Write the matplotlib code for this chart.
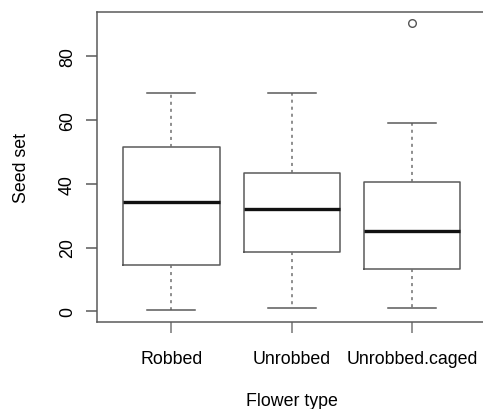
import matplotlib
matplotlib.use("Agg")
import matplotlib.pyplot as plt

plt.rcParams['font.family'] = ['Liberation Sans', 'DejaVu Sans']

# values
groups = ["Robbed", "Unrobbed", "Unrobbed.caged"]
whislo = [0.3, 1.1, 1.1]
q1 = [14.6, 18.6, 13.3]
med = [34.2, 32.2, 25.1]
q3 = [51.5, 43.2, 40.5]
whishi = [68.4, 68.4, 59.1]
outliers = [[], [], [90.1]]

stats = []
for i in range(len(groups)):
    stats.append(dict(label=groups[i], whislo=whislo[i], q1=q1[i], med=med[i],
                      q3=q3[i], whishi=whishi[i], fliers=outliers[i]))

fig = plt.figure(figsize=(4.83, 4.10), dpi=100)
# right edge sits just past the image, like the cropped original
ax = fig.add_axes([96.7/483, 1 - 323/410, (487 - 96.7)/483, (323 - 13.3)/410])

line_col = "#5a5a5a"
ax.bxp(stats, positions=[1, 2, 3], widths=0.8,
       boxprops=dict(color=line_col, linewidth=1.1),
       medianprops=dict(color="#111111", linewidth=2.4, solid_capstyle="butt"),
       whiskerprops=dict(color="#707070", linewidth=1.1, linestyle=(0, (2.0, 2.6))),
       capprops=dict(color=line_col, linewidth=1.1),
       flierprops=dict(marker="o", markersize=5.5, markerfacecolor="none",
                       markeredgecolor="#555555", markeredgewidth=1.0),
       capwidths=0.4)

ax.set_xlim(0.38, 3.62)
ax.set_ylim(-3.3, 93.6)
ax.set_yticks([0, 20, 40, 60, 80])
ax.set_xticks([1, 2, 3])
ax.set_xticklabels(groups)

for s in ax.spines.values():
    s.set_color(line_col)
    s.set_linewidth(1.1)

ax.tick_params(axis="y", length=8, width=1.1, color=line_col, labelsize=12.8,
               pad=7, labelrotation=90)
ax.tick_params(axis="x", length=8, width=1.1, color="#777777", labelsize=12.8, pad=12)
for t in ax.get_yticklabels():
    t.set_verticalalignment("center")

ax.set_xlabel("Flower type", fontsize=12.8, labelpad=18)
ax.set_ylabel("Seed set", fontsize=12.8, labelpad=21)

fig.savefig("out.png", dpi=100)
